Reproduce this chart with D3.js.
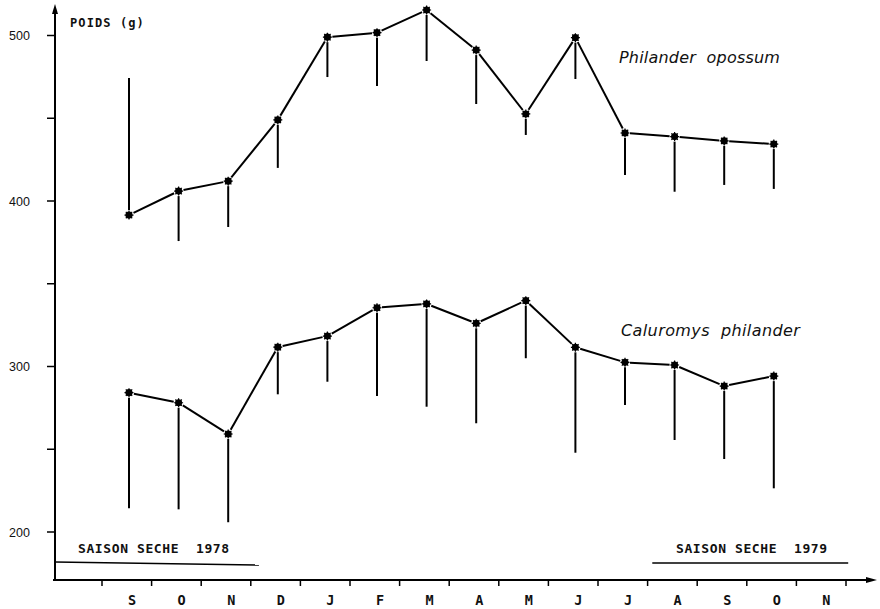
<!DOCTYPE html>
<html><head><meta charset="utf-8">
<script src="https://cdn.jsdelivr.net/npm/d3@7"></script>
<style>
body{margin:0;background:#fff;}
svg{display:block;}
</style></head>
<body><svg id="c" width="880" height="609"></svg>
<script>
const months = ["S","O","N","D","J","F","M","A","M","J","J","A","S","O","N"];
const yTicks = [200,250,300,350,400,450,500];
const yLabels = [200,300,400,500];
// Philander opossum: mean weight and range end (bar extent)
const opossumIdx  = [0,1,2,3,4,5,6,7,8,9,10,11,12,13];
const opossumMean = [391.5,406,412,449,499,501.7,515.4,491.2,452.6,498.7,441.1,438.9,436.3,434.4];
const opossumEnd  = [474.3,375.8,384.3,420,474.9,469.5,484.6,458.6,439.9,473.7,415.7,405.6,409.7,407.3];
// Caluromys philander
const caluroIdx  = [0,1,2,3,4,5,6,7,8,9,10,11,12,13];
const caluroMean = [284.2,278.1,259.2,311.7,318.4,335.5,337.8,326.1,339.8,311.6,302.5,300.9,288.2,294.2];
const caluroEnd  = [214.3,213.7,205.9,283.2,290.8,282.2,275.7,265.7,305,247.9,276.7,255.6,244.1,226.4];
const seasons = [
  {label:"SAISON SECHE  1978", from:-1.05, to:2.62},
  {label:"SAISON SECHE  1979", from:10.55, to:14.5}
];

const svg = d3.select("#c");
const y = d3.scaleLinear().domain([200,500]).range([532,35.5]);
const xBand = d3.scaleBand().domain(d3.range(15)).range([102,846]).padding(0);
const xp = d3.scalePoint().domain(d3.range(15)).range([129,823.4]);
const xs = d3.scaleLinear().domain([0,14]).range([129,823.4]);

const axisY0 = 580, axisX0 = 55;
const g = svg.append("g");
const mono = "DejaVu Sans Mono, monospace";

// y axis
g.append("line").attr("x1",axisX0).attr("x2",axisX0).attr("y1",axisY0).attr("y2",12)
  .attr("stroke","#000").attr("stroke-width",2);
g.append("path").attr("d",`M${axisX0-3},14 L${axisX0},4 L${axisX0+3},14 Z`).attr("fill","#000");
g.selectAll(".yt").data(yTicks).enter().append("line")
  .attr("x1",axisX0-8).attr("x2",axisX0).attr("y1",d=>y(d)).attr("y2",d=>y(d))
  .attr("stroke","#000").attr("stroke-width",1.5);
g.selectAll(".yl").data(yLabels).enter().append("text")
  .attr("x",9).attr("y",d=>y(d)+4.5).text(d=>d)
  .attr("font-family","Liberation Sans, Arial, sans-serif").attr("font-size",12.5).attr("fill","#111");

// x axis
g.append("line").attr("x1",axisX0-2).attr("x2",870).attr("y1",axisY0).attr("y2",axisY0)
  .attr("stroke","#000").attr("stroke-width",2);
g.append("path").attr("d",`M866,${axisY0-3} L877,${axisY0} L866,${axisY0+3} Z`).attr("fill","#000");
const bounds = d3.range(15).map(i=>xBand(i)).concat([xBand(14)+xBand.bandwidth()]);
g.selectAll(".xt").data(bounds).enter().append("line")
  .attr("x1",d=>d).attr("x2",d=>d).attr("y1",axisY0).attr("y2",axisY0+6)
  .attr("stroke","#000").attr("stroke-width",1.5);
g.selectAll(".xl").data(months).enter().append("text")
  .attr("x",(d,i)=>xp(i)+3).attr("y",605).attr("text-anchor","middle").text(d=>d)
  .attr("font-family",mono).attr("font-weight","bold")
  .attr("font-size",13.5).attr("fill","#111");

// title
g.append("text").attr("x",70).attr("y",27).text("POIDS (g)")
  .attr("font-family",mono).attr("font-weight","bold")
  .attr("font-size",12).attr("letter-spacing",1.1).attr("fill","#111").style("white-space","pre");

// seasons
seasons.forEach((s,k)=>{
  const x1 = k===0 ? axisX0 : xs(s.from);
  const x2 = xs(s.to);
  g.append("line").attr("x1",x1).attr("x2",x2).attr("y1",k===0?562:563).attr("y2",k===0?565:563)
    .attr("stroke","#000").attr("stroke-width",1.6);
  g.append("text").attr("x",k===0?78:676).attr("y",553).text(s.label)
    .attr("font-family",mono).attr("font-weight","bold")
    .attr("font-size",13).attr("letter-spacing",0.6).attr("fill","#111").style("white-space","pre");
});

function drawSeries(idx, mean, end){
  const pts = idx.map((i,k)=>({x:xp(i), y:y(mean[k]), ye:y(end[k])}));
  g.selectAll(null).data(pts).enter().append("line")
    .attr("x1",d=>d.x).attr("x2",d=>d.x)
    .attr("y1",d=>d.y + (d.ye>d.y?5:-5)).attr("y2",d=>d.ye)
    .attr("stroke","#000").attr("stroke-width",2);
  const segs = d3.pairs(pts);
  g.selectAll(null).data(segs).enter().append("line")
    .each(function([a,b]){
      const dx=b.x-a.x, dy=b.y-a.y, L=Math.hypot(dx,dy), gap=5;
      d3.select(this).attr("x1",a.x+dx*gap/L).attr("y1",a.y+dy*gap/L)
        .attr("x2",b.x-dx*gap/L).attr("y2",b.y-dy*gap/L);
    })
    .attr("stroke","#000").attr("stroke-width",2);
  g.selectAll(null).data(pts).enter().append("path")
    .attr("transform",d=>`translate(${d.x},${d.y})`)
    .attr("d",d3.symbol(d3.symbolCircle,40))
    .attr("fill","#000");
  g.selectAll(null).data(pts).enter().append("path")
    .attr("transform",d=>`translate(${d.x},${d.y})`)
    .attr("d","M-4.5,0H4.5M0,-4.5V4.5M-3.2,-3.2L3.2,3.2M-3.2,3.2L3.2,-3.2")
    .attr("stroke","#000").attr("stroke-width",1.2);
}
drawSeries(opossumIdx, opossumMean, opossumEnd);
drawSeries(caluroIdx, caluroMean, caluroEnd);

g.append("text").attr("x",619).attr("y",63).text("Philander  opossum")
  .attr("font-family","DejaVu Sans, sans-serif").attr("font-style","italic")
  .attr("font-size",16).attr("letter-spacing",0.2).attr("fill","#111").style("white-space","pre");
g.append("text").attr("x",621).attr("y",336).text("Caluromys  philander")
  .attr("font-family","DejaVu Sans, sans-serif").attr("font-style","italic")
  .attr("font-size",16).attr("letter-spacing",0.4).attr("fill","#111").style("white-space","pre");
</script></body></html>
